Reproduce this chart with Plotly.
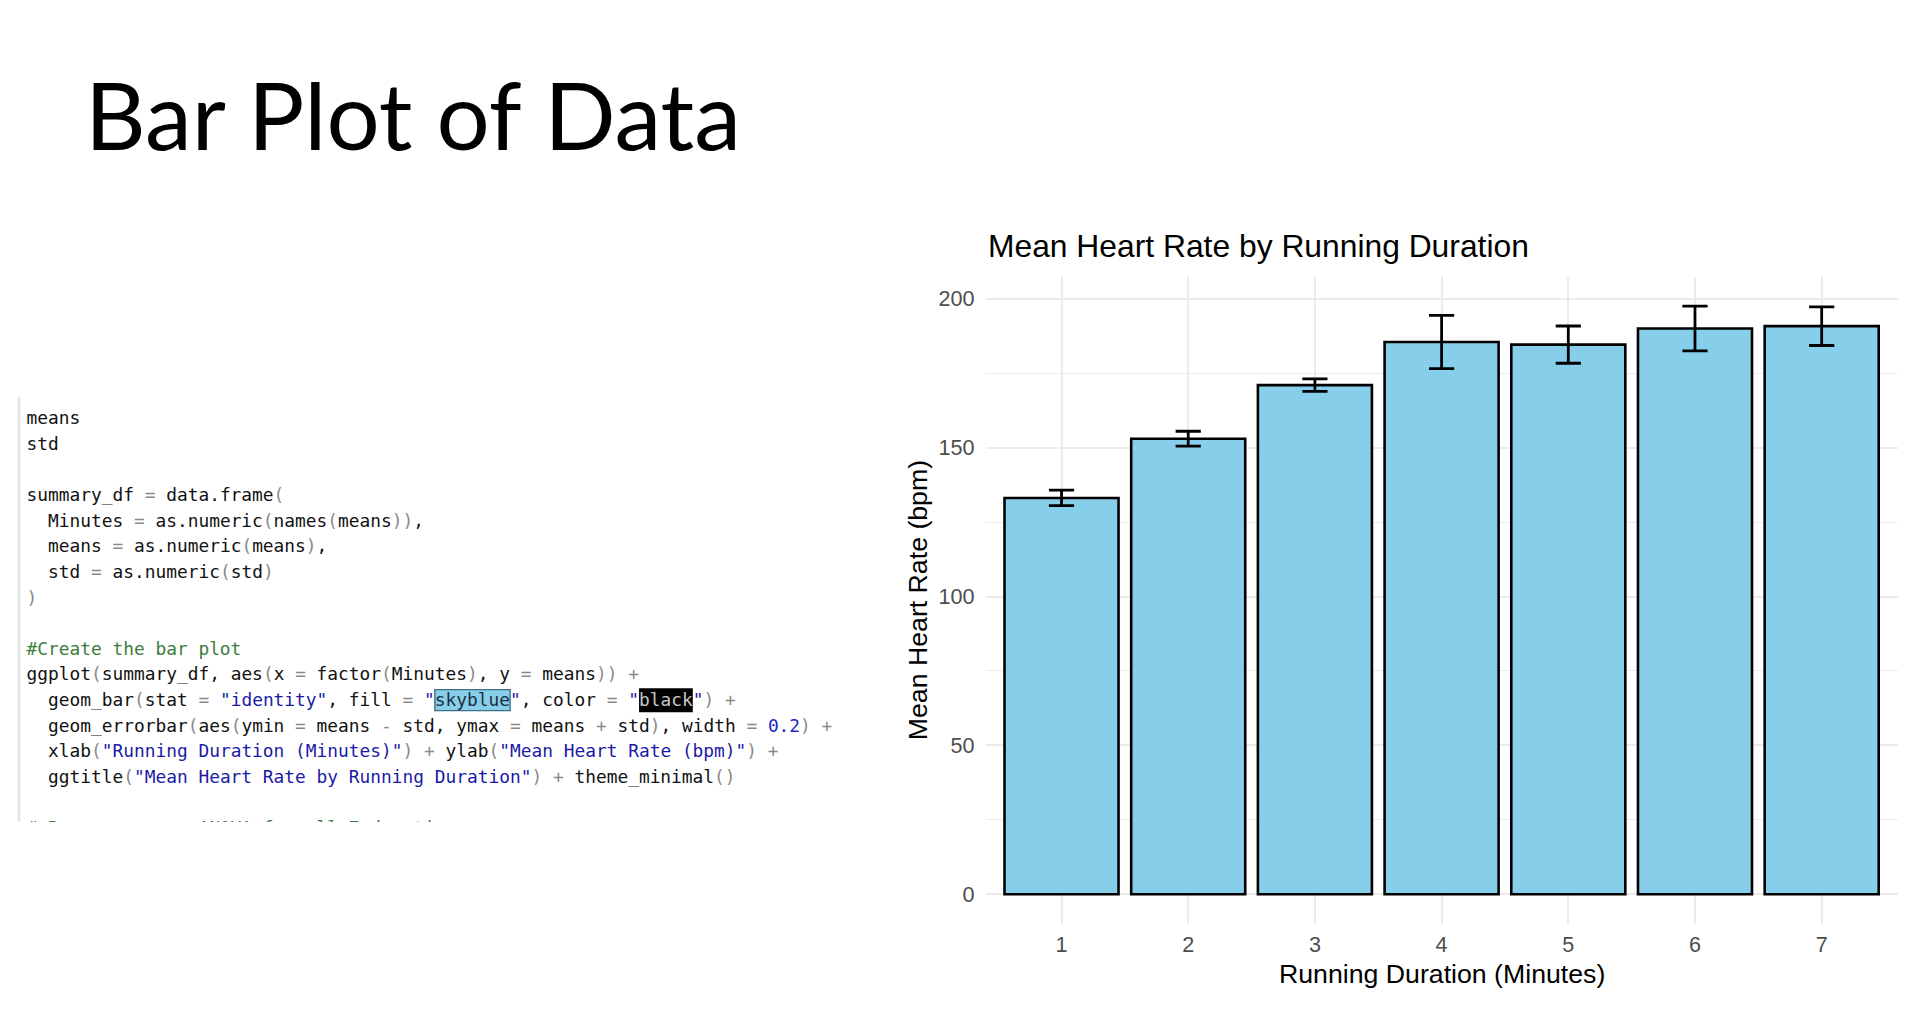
import re
import plotly.graph_objects as go

W, H = 1920, 1012

# ---------------- data ----------------
minutes = ["1", "2", "3", "4", "5", "6", "7"]
means = [133.1, 153.0, 171.0, 185.5, 184.6, 190.0, 190.8]
std = [2.6, 2.5, 2.1, 8.95, 6.25, 7.5, 6.5]
y_ticks = [0, 50, 100, 150, 200]

code_lines = [
    "means",
    "std",
    "",
    "summary_df = data.frame(",
    "  Minutes = as.numeric(names(means)),",
    "  means = as.numeric(means),",
    "  std = as.numeric(std)",
    ")",
    "",
    "#Create the bar plot",
    "ggplot(summary_df, aes(x = factor(Minutes), y = means)) +",
    "  geom_bar(stat = \"identity\", fill = \"skyblue\", color = \"black\") +",
    "  geom_errorbar(aes(ymin = means - std, ymax = means + std), width = 0.2) +",
    "  xlab(\"Running Duration (Minutes)\") + ylab(\"Mean Heart Rate (bpm)\") +",
    "  ggtitle(\"Mean Heart Rate by Running Duration\") + theme_minimal()",
    "",
    "# Run a one-way ANOVA for all 7 durations",
]

# ---------------- helpers ----------------
def px_x(x):
    return x / W


def px_y(y):
    return 1 - y / H


C_DEF = "#111111"
C_OP = "#8a8a8a"
C_STR = "#1a1aa6"
C_NUM = "#2424c8"
C_COM = "#3b7d3b"

tok_re = re.compile(r'"[^"]*"|#.*$|\d+\.?\d*|[()=+\-]|[^"#()=+\-\d]+')


def span(t, c):
    t = t.replace(" ", "\u00a0")
    return f'<span style="color:{c}">{t}</span>'


def colorize(line):
    out = []
    for m in tok_re.finditer(line):
        t = m.group(0)
        if t.startswith('"'):
            inner = t[1:-1]
            if inner == "skyblue":
                out.append(span('"', C_STR) + span(inner, "#1d2f3d") + span('"', C_STR))
            elif inner == "black":
                out.append(span('"', C_STR) + span(inner, "#c8c8c8") + span('"', C_STR))
            else:
                out.append(span(t, C_STR))
        elif t.startswith("#"):
            out.append(span(t, C_COM))
        elif t[0].isdigit():
            out.append(span(t, C_NUM))
        elif t in "()=+-":
            out.append(span(t, C_OP))
        else:
            out.append(span(t, C_DEF))
    return "".join(out)


# ---------------- figure ----------------
fig = go.Figure()

fig.add_trace(go.Bar(
    x=minutes, y=means, width=0.9,
    marker=dict(color="#87CEEB", line=dict(color="black", width=2.6)),
    error_y=dict(type="data", array=std, visible=True, color="black",
                 thickness=2.8, width=12.6),
    hoverinfo="skip", showlegend=False,
))

# code block
CODE_X0 = 26.5
CODE_Y0 = 419.7
CODE_DY = 25.63
CODE_FS = 17.85
CW = CODE_FS * 0.60205
ys = [CODE_Y0 + i * CODE_DY for i in range(len(code_lines))]
fig.add_trace(go.Scatter(
    x=[CODE_X0] * len(code_lines), y=ys,
    text=[colorize(l) for l in code_lines],
    mode="text", textposition="middle right",
    textfont=dict(family="DejaVu Sans Mono", size=CODE_FS, color=C_DEF),
    xaxis="x2", yaxis="y2", cliponaxis=True,
    hoverinfo="skip", showlegend=False,
))

# highlight boxes in code
hl_line = 11
yc = ys[hl_line] - 1.5
shapes = [
    dict(type="line", xref="x2", yref="y2", x0=19, x1=19, y0=397, y1=822,
         line=dict(color="#E4E4E4", width=2.5), layer="below"),
    dict(type="rect", xref="x2", yref="y2",
         x0=CODE_X0 + 38 * CW, x1=CODE_X0 + 45 * CW, y0=yc - 10.5, y1=yc + 10.5,
         fillcolor="#87CEEB", line=dict(color="#3d6f86", width=1.4), layer="below"),
    dict(type="rect", xref="x2", yref="y2",
         x0=CODE_X0 + 57 * CW, x1=CODE_X0 + 62 * CW, y0=yc - 12, y1=yc + 12,
         fillcolor="#000000", line=dict(width=0), layer="below"),
]

ymax = max(m + s for m, s in zip(means, std))
pad = 0.05 * ymax

PANEL_L, PANEL_R = 985.5, 1897.7
PANEL_T, PANEL_B = 276.8, 923.7

SANS = "Liberation Sans, Arial, Helvetica, sans-serif"
tickfont = dict(family=SANS, size=21.6, color="#4D4D4D")

annotations = [
    dict(text="Bar Plot of Data", x=px_x(83), y=px_y(113), xref="paper", yref="paper",
         xanchor="left", yanchor="middle", showarrow=False,
         font=dict(family="Lato, Noto Sans, sans-serif", size=94, color="#000000")),
    dict(text="Mean Heart Rate by Running Duration", x=px_x(PANEL_L), y=px_y(246.3),
         xref="paper", yref="paper", xanchor="left", yanchor="middle", showarrow=False,
         font=dict(family=SANS, size=31.8, color="#000000")),
    dict(text="Running Duration (Minutes)", x=px_x((PANEL_L + PANEL_R) / 2), y=px_y(974),
         xref="paper", yref="paper", xanchor="center", yanchor="middle", showarrow=False,
         font=dict(family=SANS, size=26.7, color="#000000")),
    dict(text="Mean Heart Rate (bpm)", x=px_x(918), y=px_y((PANEL_T + PANEL_B) / 2),
         xref="paper", yref="paper", xanchor="center", yanchor="middle", showarrow=False,
         textangle=-90, font=dict(family=SANS, size=26.7, color="#000000")),
]

fig.update_layout(
    width=W, height=H, autosize=False,
    margin=dict(l=0, r=0, t=0, b=0, pad=0),
    paper_bgcolor="white", plot_bgcolor="white",
    showlegend=False,
    xaxis=dict(
        domain=[px_x(PANEL_L), px_x(PANEL_R)], type="category",
        range=[-0.6, len(minutes) - 0.4],
        showgrid=True, gridcolor="#EBEBEB", gridwidth=2.2,
        showline=False, zeroline=False, ticks="",
        tickfont=tickfont, ticklabelstandoff=6, fixedrange=True,
    ),
    yaxis=dict(
        domain=[px_y(PANEL_B), px_y(PANEL_T)],
        range=[-pad, ymax + pad],
        tickmode="array", tickvals=y_ticks,
        showgrid=True, gridcolor="#EBEBEB", gridwidth=2.2,
        minor=dict(dtick=25, tick0=0, showgrid=True, gridcolor="#EBEBEB", gridwidth=1.1),
        showline=False, zeroline=False, ticks="",
        tickfont=tickfont, ticklabelstandoff=10, fixedrange=True,
    ),
    xaxis2=dict(domain=[0, px_x(940)], range=[0, 940], visible=False,
                fixedrange=True, anchor="y2"),
    yaxis2=dict(domain=[px_y(822), px_y(380)], range=[822, 380], visible=False,
                fixedrange=True, anchor="x2"),
    shapes=shapes,
    annotations=annotations,
)

fig.write_html(
    "out.html",
    config={"displayModeBar": False},
    post_script="document.body.style.margin='0';document.body.style.overflow='hidden';",
)
